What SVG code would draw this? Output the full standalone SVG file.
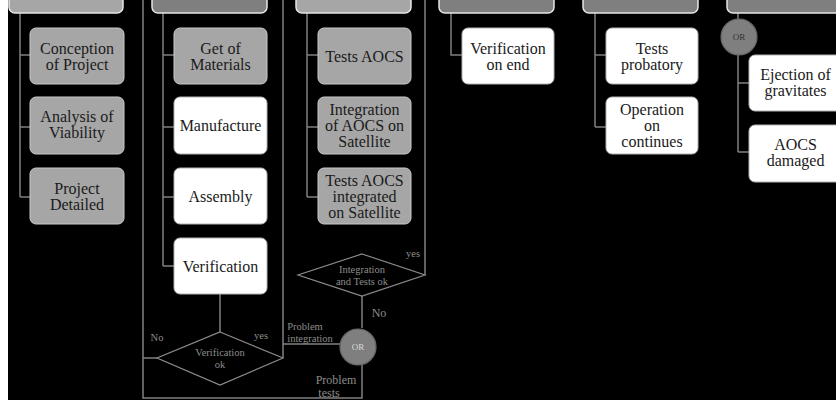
<svg xmlns="http://www.w3.org/2000/svg" width="836" height="400" viewBox="0 0 836 400">
<style>
.bg{fill:#000}
.hdrL{fill:#a6a6a6;stroke:#e6e6e6;stroke-width:1.5}
.hdrD{fill:#7f7f7f;stroke:#e6e6e6;stroke-width:1.5}
.g{fill:#a6a6a6;stroke:#c8c8c8;stroke-width:1}
.w{fill:#ffffff;stroke:#b3b3b3;stroke-width:1}
text{font-family:"Liberation Serif",Tinos,"Times New Roman","DejaVu Serif",serif}
.t{font-size:16px;fill:#1a1a1a;text-anchor:middle}
.c{fill:none;stroke:#808080;stroke-width:1.5}
.d{fill:#000;stroke:#8c8c8c;stroke-width:1.2}
.s{font-size:10.5px;fill:#8c8c8c;text-anchor:middle}
.m{font-size:12px;fill:#8c8c8c;text-anchor:middle}
.or{fill:#7f7f7f;stroke:#666;stroke-width:1.2}
.ot{font-size:9px;text-anchor:middle}
</style>
<rect x="0" y="0" width="836" height="400" fill="#fff"/>
<rect class="bg" x="8" y="0" width="828" height="400"/>

<g id="connectors">
  <path class="c" d="M20,13 V197 M20,55 H30 M20,127 H30 M20,197 H30"/>
  <path class="c" d="M163,13 V266 M163,55 H174 M163,127 H174 M163,197 H174 M163,266 H174"/>
  <path class="c" d="M307,13 V197 M307,55 H318 M307,127 H318 M307,197 H318"/>
  <path class="c" d="M451,13 V55 H462"/>
  <path class="c" d="M595,13 V127 M595,55 H606 M595,127 H606"/>
  <path class="c" d="M738,13 V19 M738,55 V152 M738,83 H749 M738,152 H749"/>
  <path class="c" d="M220,294 V332"/>
  <path class="c" d="M157,358 H143 M143,0 V398 H362 V364"/>
  <path class="c" d="M283,0 V358 M283,344 H340"/>
  <path class="c" d="M362,296 V328"/>
  <path class="c" d="M425,0 V275"/>
</g>

<g id="header1"><rect class="hdrL" x="9" y="-20" width="114" height="33" rx="6"/></g>
<g id="header2"><rect class="hdrD" x="152" y="-20" width="115" height="33" rx="6"/></g>
<g id="header3"><rect class="hdrL" x="296" y="-20" width="115" height="33" rx="6"/></g>
<g id="header4"><rect class="hdrD" x="439" y="-20" width="115" height="33" rx="6"/></g>
<g id="header5"><rect class="hdrD" x="583" y="-20" width="115" height="33" rx="6"/></g>
<g id="header6"><rect class="hdrD" x="727" y="-20" width="120" height="33" rx="6"/></g>

<g id="conception"><rect class="g" x="30" y="28" width="94" height="56" rx="6"/>
<text class="t" x="77" y="53.5">Conception</text><text class="t" x="77" y="69.5">of Project</text></g>
<g id="analysis"><rect class="g" x="30" y="97" width="94" height="57" rx="6"/>
<text class="t" x="77" y="122">Analysis of</text><text class="t" x="77" y="138">Viability</text></g>
<g id="detailed"><rect class="g" x="30" y="168" width="94" height="56" rx="6"/>
<text class="t" x="77" y="193.5">Project</text><text class="t" x="77" y="209.5">Detailed</text></g>

<g id="materials"><rect class="g" x="174" y="28" width="93" height="56" rx="6"/>
<text class="t" x="220.5" y="53.5">Get of</text><text class="t" x="220.5" y="69.5">Materials</text></g>
<g id="manufacture"><rect class="w" x="174" y="97" width="93" height="57" rx="6"/>
<text class="t" x="220.5" y="131">Manufacture</text></g>
<g id="assembly"><rect class="w" x="174" y="168" width="93" height="56" rx="6"/>
<text class="t" x="220.5" y="201.5">Assembly</text></g>
<g id="verification"><rect class="w" x="174" y="238" width="93" height="56" rx="6"/>
<text class="t" x="220.5" y="271.5">Verification</text></g>

<g id="testsaocs"><rect class="g" x="318" y="28" width="93" height="56" rx="6"/>
<text class="t" x="364.5" y="61.5">Tests AOCS</text></g>
<g id="integration"><rect class="g" x="318" y="97" width="93" height="57" rx="6"/>
<text class="t" x="364.5" y="114.5">Integration</text><text class="t" x="364.5" y="130.5">of AOCS on</text><text class="t" x="364.5" y="146.5">Satellite</text></g>
<g id="testsintegrated"><rect class="g" x="318" y="168" width="93" height="56" rx="6"/>
<text class="t" x="364.5" y="185.5">Tests AOCS</text><text class="t" x="364.5" y="201.5">integrated</text><text class="t" x="364.5" y="217.5">on Satellite</text></g>

<g id="verifend"><rect class="w" x="462" y="28" width="92" height="56" rx="6"/>
<text class="t" x="508" y="53.5">Verification</text><text class="t" x="508" y="69.5">on end</text></g>

<g id="probatory"><rect class="w" x="606" y="28" width="92" height="56" rx="6"/>
<text class="t" x="652" y="53.5">Tests</text><text class="t" x="652" y="69.5">probatory</text></g>
<g id="operation"><rect class="w" x="606" y="97" width="92" height="57" rx="6"/>
<text class="t" x="652" y="114.5">Operation</text><text class="t" x="652" y="130.5">on</text><text class="t" x="652" y="146.5">continues</text></g>

<g id="or1"><circle class="or" cx="739" cy="37" r="18"/><text class="ot" x="739" y="40" fill="#333">OR</text></g>
<g id="ejection"><rect class="w" x="749" y="55" width="93" height="56" rx="6"/>
<text class="t" x="795.5" y="80">Ejection of</text><text class="t" x="795.5" y="96">gravitates</text></g>
<g id="damaged"><rect class="w" x="749" y="125" width="93" height="57" rx="6"/>
<text class="t" x="795.5" y="150">AOCS</text><text class="t" x="795.5" y="166">damaged</text></g>

<g id="diamond1"><polygon class="d" points="220,332 283,358 220,385 157,358"/>
<text class="s" x="220" y="356">Verification</text><text class="s" x="220" y="368">ok</text></g>
<g id="diamond2"><polygon class="d" points="362,254 425,275 362,296 298,275"/>
<text class="s" x="362" y="273">Integration</text><text class="s" x="362" y="285">and Tests ok</text></g>
<g id="or2"><circle class="or" cx="358" cy="347" r="18"/><text class="ot" x="358" y="350" fill="#d9d9d9">OR</text></g>

<g id="labels">
<text class="s" x="157" y="341">No</text>
<text class="s" x="261" y="339">yes</text>
<text class="s" x="305" y="330">Problem</text>
<text class="s" x="310" y="342">integration</text>
<text class="m" x="336" y="384">Problem</text>
<text class="m" x="329" y="397">tests</text>
<text class="m" x="379" y="317">No</text>
<text class="s" x="413" y="257">yes</text>
</g>
</svg>
